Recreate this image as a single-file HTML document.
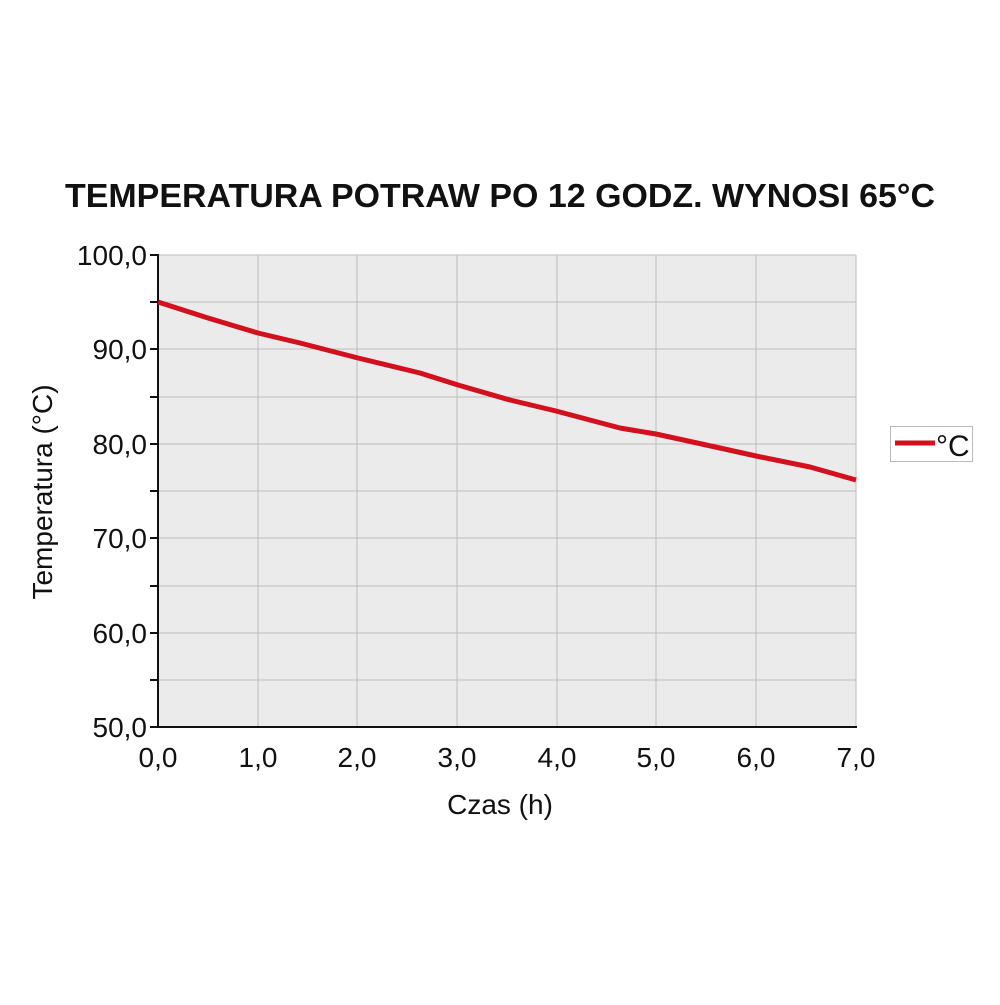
<!DOCTYPE html>
<html><head><style>
html,body{margin:0;padding:0;background:#fff;}
</style></head><body>
<svg width="1000" height="1000" xmlns="http://www.w3.org/2000/svg" font-family="'Liberation Sans',sans-serif">
<text x="65" y="207" font-size="33" font-weight="bold" fill="#111" textLength="870" lengthAdjust="spacingAndGlyphs">TEMPERATURA POTRAW PO 12 GODZ. WYNOSI 65°C</text>
<rect x="158" y="255" width="698" height="472" fill="#ebebeb"/>
<g stroke="#bdbdbd" stroke-width="1">
<line x1="158" y1="255" x2="856" y2="255"/>
<line x1="158" y1="302" x2="856" y2="302"/>
<line x1="158" y1="349" x2="856" y2="349"/>
<line x1="158" y1="397" x2="856" y2="397"/>
<line x1="158" y1="444" x2="856" y2="444"/>
<line x1="158" y1="491" x2="856" y2="491"/>
<line x1="158" y1="538" x2="856" y2="538"/>
<line x1="158" y1="586" x2="856" y2="586"/>
<line x1="158" y1="633" x2="856" y2="633"/>
<line x1="158" y1="680" x2="856" y2="680"/>
<line x1="258" y1="255" x2="258" y2="727"/>
<line x1="357" y1="255" x2="357" y2="727"/>
<line x1="457" y1="255" x2="457" y2="727"/>
<line x1="557" y1="255" x2="557" y2="727"/>
<line x1="656" y1="255" x2="656" y2="727"/>
<line x1="756" y1="255" x2="756" y2="727"/>
<line x1="856" y1="255" x2="856" y2="727"/>
</g>
<g stroke="#111" stroke-width="2">
<line x1="158" y1="254" x2="158" y2="728"/>
<line x1="157" y1="727" x2="857" y2="727"/>
<line x1="150" y1="255" x2="158" y2="255"/>
<line x1="150" y1="302" x2="158" y2="302"/>
<line x1="150" y1="349" x2="158" y2="349"/>
<line x1="150" y1="397" x2="158" y2="397"/>
<line x1="150" y1="444" x2="158" y2="444"/>
<line x1="150" y1="491" x2="158" y2="491"/>
<line x1="150" y1="538" x2="158" y2="538"/>
<line x1="150" y1="586" x2="158" y2="586"/>
<line x1="150" y1="633" x2="158" y2="633"/>
<line x1="150" y1="680" x2="158" y2="680"/>
<line x1="150" y1="727" x2="158" y2="727"/>
</g>
<g font-size="28" fill="#111" text-anchor="end">
<text x="147" y="265">100,0</text>
<text x="147" y="359">90,0</text>
<text x="147" y="454">80,0</text>
<text x="147" y="548">70,0</text>
<text x="147" y="643">60,0</text>
<text x="147" y="737">50,0</text>
</g>
<g font-size="28" fill="#111" text-anchor="middle">
<text x="158" y="767">0,0</text>
<text x="258" y="767">1,0</text>
<text x="357" y="767">2,0</text>
<text x="457" y="767">3,0</text>
<text x="557" y="767">4,0</text>
<text x="656" y="767">5,0</text>
<text x="756" y="767">6,0</text>
<text x="856" y="767">7,0</text>
<text x="500" y="814">Czas (h)</text>
<text transform="translate(52,492) rotate(-90)">Temperatura (°C)</text>
</g>
<polyline fill="none" stroke="#d2101e" stroke-width="5" stroke-linejoin="round" points="158,302 208,318 258,333 300,343 358,358 420,373 458,385 510,400 556,411 620,428 656,434 720,448 756,456 810,467 856,480"/>
<rect x="890.5" y="426.5" width="82" height="35" fill="#fff" stroke="#bbb"/>
<line x1="895" y1="443" x2="935" y2="443" stroke="#d2101e" stroke-width="5"/>
<text x="936" y="456" font-size="30" fill="#111">°C</text>
</svg>
</body></html>
